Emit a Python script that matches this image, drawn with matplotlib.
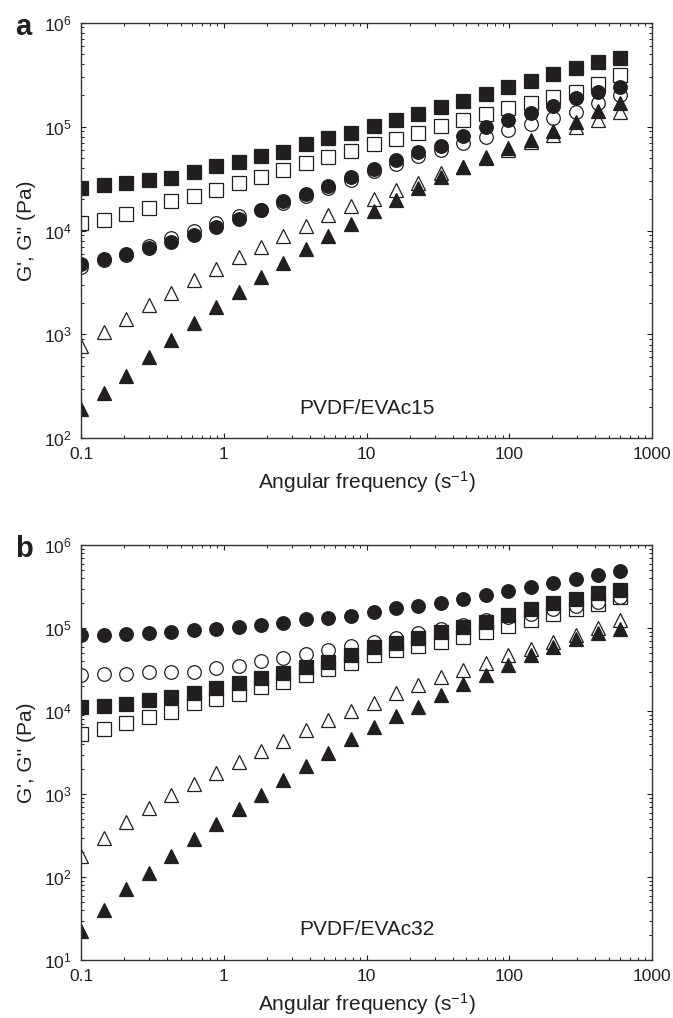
import matplotlib
matplotlib.use("Agg")
import matplotlib.pyplot as plt
from matplotlib.ticker import FixedLocator, FixedFormatter, LogLocator, NullFormatter

plt.rcParams['font.family'] = ['Liberation Sans', 'DejaVu Sans']
plt.rcParams['mathtext.fontset'] = 'custom'
plt.rcParams['mathtext.rm'] = 'Liberation Sans'
plt.rcParams['mathtext.it'] = 'Liberation Sans:italic'
plt.rcParams['mathtext.bf'] = 'Liberation Sans:bold'

# angular frequency (s^-1), same sweep for both blends
freq = [0.1, 0.144, 0.207, 0.297, 0.427, 0.613, 0.881, 1.27, 1.82, 2.61, 3.76, 5.40,
        7.76, 11.2, 16.0, 23.0, 33.1, 47.6, 68.4, 98.3, 141, 203, 292, 419, 600]

# panel a: PVDF/EVAc15
a_sq_fill = [25700, 27200, 28900, 30400, 32300, 36600, 41500, 45700, 51900, 57100, 67800, 78000,
             87100, 101000, 115000, 132000, 153000, 177000, 206000, 239000, 277000, 319000,
             364000, 416000, 460000]
a_sq_open = [11900, 12500, 14500, 16600, 19100, 21500, 24400, 28900, 32800, 38000, 44800, 51100,
             58300, 67800, 76700, 87100, 101000, 116000, 131000, 150000, 168000, 191000,
             217000, 257000, 314000]
a_ci_fill = [4790, 5350, 5890, 6780, 7750, 8980, 10800, 13000, 15600, 19100, 22300, 26900,
             32800, 39500, 48200, 57400, 65000, 81300, 98500, 116000, 134000, 158000,
             187000, 217000, 242000]
a_ci_open = [4450, 5230, 5770, 7040, 8530, 10000, 11800, 13800, 15900, 18500, 21500, 25500,
             30400, 37400, 44100, 52100, 59500, 70000, 80000, 92700, 107000, 122000,
             139000, 168000, 201000]
a_tr_fill = [192, 274, 402, 604, 887, 1290, 1830, 2550, 3560, 4860, 6680, 8850, 11600, 15300,
             19500, 25500, 33000, 41100, 50600, 61800, 74300, 91400, 111000, 142000, 168000]
a_tr_open = [782, 1050, 1410, 1900, 2520, 3310, 4290, 5560, 6930, 8790, 11000, 14000, 17100,
             20300, 24800, 28400, 36000, 41100, 50000, 60000, 71600, 83000, 99800, 116000, 139000]

# panel b: PVDF/EVAc32
b_sq_fill = [11100, 11600, 12200, 13700, 14800, 16800, 18900, 21700, 25000, 28700, 33900, 39600,
             47600, 60100, 67100, 75700, 90900, 103000, 120000, 145000, 169000, 200000,
             223000, 268000, 289000]
b_sq_open = [5280, 6070, 7300, 8470, 9890, 12500, 14000, 16200, 19800, 22700, 27400, 32100,
             37800, 47600, 54800, 61200, 69000, 79200, 90900, 107000, 126000, 149000,
             169000, 196000, 236000]
b_ci_fill = [83000, 83000, 85300, 88500, 89400, 95400, 98900, 104600, 109600, 117000, 129000,
             134000, 142000, 156000, 174000, 186000, 204000, 225000, 252000, 281000, 312000,
             355000, 389000, 439000, 490000]
b_ci_open = [27400, 27900, 27900, 29700, 29700, 29700, 33000, 35200, 40700, 43500, 48600, 54800,
             61200, 69000, 75700, 87100, 97300, 110000, 124000, 136000, 149000, 169000,
             186000, 209000, 236000]
b_tr_fill = [22.7, 40.4, 71.6, 112, 181, 287, 439, 659, 982, 1490, 2190, 3120, 4600, 6420,
             8770, 11400, 15700, 21100, 27400, 36100, 47600, 60100, 73600, 87100, 97200]
b_tr_open = [181, 295, 468, 678, 982, 1330, 1820, 2470, 3350, 4430, 5960, 7860, 10200, 12700,
             16500, 20700, 25700, 31500, 38500, 47600, 55800, 69000, 83000, 100000, 124000]

ink = '#231f20'
ms = 9.8

fig = plt.figure(figsize=(6.73, 10.18), dpi=100)
ax_a = fig.add_axes([0.1208, 0.5694, 0.848, 0.4083])
ax_b = fig.add_axes([0.1208, 0.0567, 0.848, 0.4077])


def draw_panel(ax, sq_f, sq_o, ci_f, ci_o, tr_f, tr_o, ylo, name, letter):
    # open symbols first, filled symbols on top
    for y, m in [(sq_o, 's'), (ci_o, 'o'), (tr_o, '^')]:
        ax.plot(freq, y, ls='none', marker=m, ms=ms, mfc='white', mec=ink, mew=0.9)
    for y, m in [(sq_f, 's'), (ci_f, 'o'), (tr_f, '^')]:
        ax.plot(freq, y, ls='none', marker=m, ms=ms, mfc=ink, mec=ink, mew=0.9)

    ax.set_xscale('log')
    ax.set_yscale('log')
    ax.set_xlim(0.1, 1000)
    ax.set_ylim(ylo, 1e6)
    ax.xaxis.set_major_locator(FixedLocator([0.1, 1, 10, 100, 1000]))
    ax.xaxis.set_major_formatter(FixedFormatter(['0.1', '1', '10', '100', '1000']))
    ax.xaxis.set_minor_locator(LogLocator(base=10, subs=range(2, 10), numticks=20))
    ax.xaxis.set_minor_formatter(NullFormatter())
    ax.yaxis.set_minor_locator(LogLocator(base=10, subs=range(2, 10), numticks=20))
    ax.yaxis.set_minor_formatter(NullFormatter())

    ax.tick_params(which='both', direction='in', top=True, right=True,
                   color=ink, labelsize=12.5, labelcolor=ink)
    ax.tick_params(which='major', length=3.5, width=0.8, pad=6)
    ax.tick_params(axis='y', which='major', pad=7)
    ax.tick_params(which='minor', length=2, width=0.7)
    for s in ax.spines.values():
        s.set_color('#333333')
        s.set_linewidth(1.0)

    ax.set_xlabel('Angular frequency (s$^{-1}$)', fontsize=15, color=ink)
    ax.set_ylabel("G', G'' (Pa)", fontsize=15, color=ink)
    ax.xaxis.set_label_coords(0.5, -0.075)
    ax.yaxis.set_label_coords(-0.079, 0.5)

    ax.text(0.5, 0.073, name, transform=ax.transAxes, ha='center', va='center',
            fontsize=15, color=ink)
    ax.text(-0.101, 0.971, letter, transform=ax.transAxes, ha='center', va='baseline',
            fontsize=21, fontweight='bold', color=ink)


draw_panel(ax_a, a_sq_fill, a_sq_open, a_ci_fill, a_ci_open, a_tr_fill, a_tr_open,
           1e2, 'PVDF/EVAc15', 'a')
draw_panel(ax_b, b_sq_fill, b_sq_open, b_ci_fill, b_ci_open, b_tr_fill, b_tr_open,
           1e1, 'PVDF/EVAc32', 'b')

fig.savefig('out.png', dpi=100, facecolor='white')
